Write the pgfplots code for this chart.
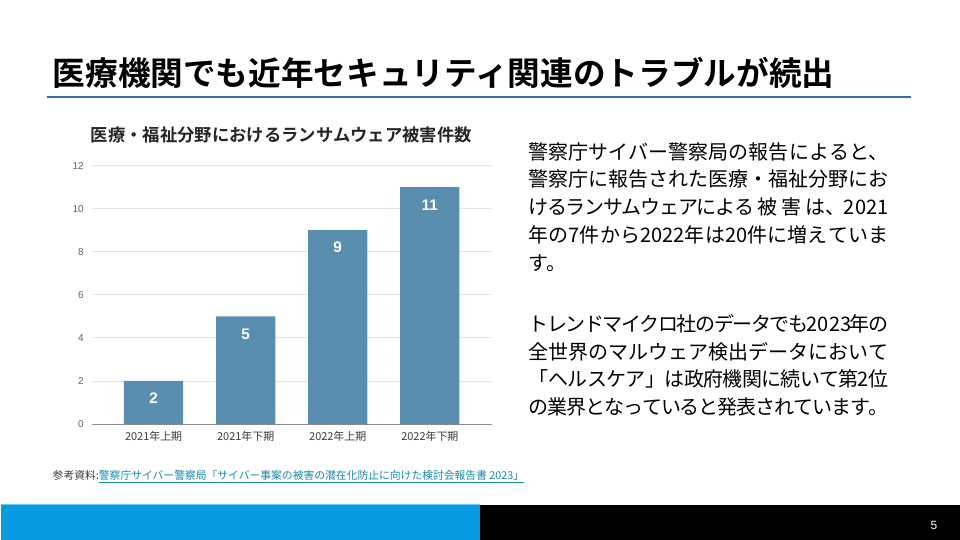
\documentclass[border=0pt]{standalone}
\usepackage{fontspec}
\usepackage{pgfplots}
\pgfplotsset{compat=1.18}
\setmainfont{Noto Sans CJK JP}[BoldFont={Noto Sans CJK JP Bold}]
\newfontfamily\arial{Liberation Sans}
\definecolor{barc}{RGB}{89,142,174}
\definecolor{gridc}{RGB}{228,228,228}
\definecolor{basec}{RGB}{140,140,140}
\definecolor{ticklc}{RGB}{100,100,100}
\definecolor{xlabc}{RGB}{60,60,60}
\definecolor{rulec}{RGB}{58,109,180}
\definecolor{linkc}{RGB}{24,138,168}
\definecolor{fgrey}{RGB}{60,60,60}
\definecolor{footblue}{RGB}{8,155,226}
\definecolor{footlight}{RGB}{110,200,238}
\newcommand\jline[1]{\parbox{270pt}{\tolerance=10000\hbadness=10000\hfuzz=50pt\parfillskip=0pt\XeTeXlinebreaklocale "ja"\XeTeXlinebreakskip=0pt plus 3pt minus 2pt\relax #1}}
\begin{document}
\begin{tikzpicture}[x=0.75pt,y=0.75pt]
\path[fill=white] (0,0) rectangle (960,540);
% title
\node[anchor=west,inner sep=0,font=\fontsize{24.5pt}{29pt}\selectfont\bfseries] at (52,467.5) {医療機関でも近年セキュリティ関連のトラブルが続出};
\draw[rulec,line width=2pt] (47,443) -- (911,443);
% chart title
\node[inner sep=0,font=\fontsize{13pt}{16pt}\selectfont\bfseries,text=black!85] at (281,404.5) {医療・福祉分野におけるランサムウェア被害件数};
\begin{axis}[
  at={(69pt,86.775pt)}, anchor=south west,
  scale only axis, width=299.8pt, height=194pt,
  ybar, bar width=44.5pt,
  xmin=-0.664, xmax=3.675, ymin=0, ymax=12,
  xtick={0,1,2,3},
  xticklabels={2021年上期,2021年下期,2022年上期,2022年下期},
  ytick={0,2,4,6,8,10,12},
  ymajorgrids,
  grid style={draw=gridc,line width=0.7pt},
  extra y ticks={0}, extra y tick labels={},
  extra y tick style={grid style={draw=basec,line width=0.8pt}},
  axis line style={draw=none},
  major tick length=0pt,
  tick style={draw=none},
  /pgf/number format/assume math mode=true,
  yticklabel style={font=\arial\fontsize{7.5pt}{9pt}\selectfont,text=ticklc,xshift=-3pt},
  xticklabel style={font=\fontsize{8.2pt}{10pt}\selectfont,text=xlabc,yshift=-2pt},
  nodes near coords,
  every node near coord/.append style={anchor=south,inner sep=0pt,yshift=-17.4pt,font=\arial\bfseries\fontsize{11.5pt}{13pt}\selectfont,text=white},
]
\addplot[fill=barc,draw=none] coordinates {(0,2) (1,5) (2,9) (3,11)};
\end{axis}
% right text
\begin{scope}[every node/.style={anchor=west,inner sep=0,font=\fontsize{15pt}{18pt}\selectfont}]
\node at (528,388.3) {\jline{警察庁サイバー警察局の報告によると、}};
\node at (528,361) {\jline{警察庁に報告された医療・福祉分野にお}};
\node at (528,332.7) {\jline{けるランサムウェアによる 被 害 は、2021}};
\node at (528,305) {\jline{年の7件から2022年は20件に増えていま}};
\node at (528,276.7) {す。};
\node at (528,215.7) {\jline{トレンドマイクロ社のデータでも2023年の}};
\node at (528,188.3) {\jline{全世界のマルウェア検出データにおいて}};
\node at (528,160.7) {\jline{「ヘルスケア」は政府機関に続いて第2位}};
\node at (528,133.3) {\jline{の業界となっていると発表されています。}};
\end{scope}
% footnote
\node[anchor=west,inner sep=0,font=\fontsize{8.1pt}{10pt}\selectfont] at (52,63) {{\color{fgrey}参考資料:}{\color{linkc}\underline{警察庁サイバー警察局「サイバー事案の被害の潜在化防止に向けた検討会報告書 2023」}}};
% footer
\fill[footblue] (0,0) rectangle (480,35);
\fill[black] (480,0) rectangle (960,35);
\draw[footlight,line width=0.75pt] (0,35.4) -- (480,35.4);
\node[inner sep=0,text=white,font=\arial\fontsize{9pt}{11pt}\selectfont] at (934,14) {5};
\end{tikzpicture}
\end{document}
